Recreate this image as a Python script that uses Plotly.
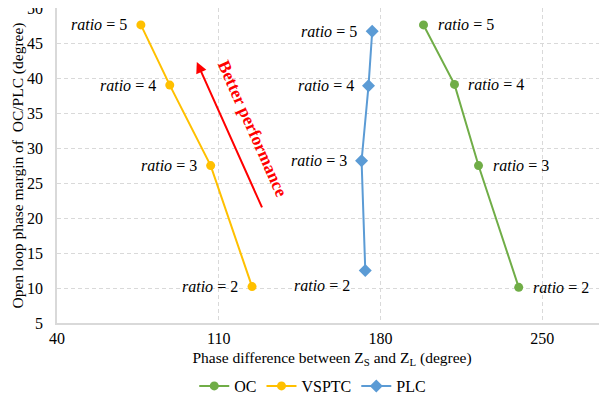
import plotly.graph_objects as go

ratios = [5, 4, 3, 2]
oc_x = [198.6, 212.0, 222.4, 239.8]
oc_y = [47.6, 39.1, 27.5, 10.1]
vsptc_x = [76.3, 88.8, 106.5, 124.4]
vsptc_y = [47.6, 39.0, 27.5, 10.2]
plc_x = [176.4, 174.8, 171.8, 173.4]
plc_y = [46.7, 38.9, 28.2, 12.5]
x_ticks = [40, 110, 180, 250]
y_ticks = [5, 10, 15, 20, 25, 30, 35, 40, 45, 50]
arrow_tail = (129.0, 21.3)
arrow_head = (100.5, 42.3)
arrow_text_pos = (124.5, 32.8)

GREEN = "#70AD47"
ORANGE = "#FFC000"
BLUE = "#5B9BD5"
FONT = "Liberation Serif"

fig = go.Figure()
fig.add_trace(go.Scatter(x=oc_x, y=oc_y, mode="lines+markers", name="OC",
                         line=dict(color=GREEN, width=2),
                         marker=dict(symbol="circle", size=9, color=GREEN)))
fig.add_trace(go.Scatter(x=vsptc_x, y=vsptc_y, mode="lines+markers", name="VSPTC",
                         line=dict(color=ORANGE, width=2),
                         marker=dict(symbol="circle", size=9, color=ORANGE)))
fig.add_trace(go.Scatter(x=plc_x, y=plc_y, mode="lines+markers", name="PLC",
                         line=dict(color=BLUE, width=2),
                         marker=dict(symbol="diamond", size=10, color=BLUE)))

annotations = []
lab_font = dict(family=FONT, size=16, color="black")
for r, x, y in zip(ratios, vsptc_x, vsptc_y):
    annotations.append(dict(x=x, y=y, text=f"<i>ratio</i> = {r}", showarrow=False,
                            xanchor="right", xshift=-12, font=lab_font))
for r, x, y in zip(ratios, plc_x, plc_y):
    ys = -15 if r == 2 else 0
    annotations.append(dict(x=x, y=y, text=f"<i>ratio</i> = {r}", showarrow=False,
                            xanchor="right", xshift=-13, yshift=ys, font=lab_font))
for r, x, y in zip(ratios, oc_x, oc_y):
    annotations.append(dict(x=x, y=y, text=f"<i>ratio</i> = {r}", showarrow=False,
                            xanchor="left", xshift=12, font=lab_font))

annotations.append(dict(x=arrow_head[0], y=arrow_head[1], ax=arrow_tail[0], ay=arrow_tail[1],
                        xref="x", yref="y", axref="x", ayref="y", text="",
                        showarrow=True, arrowhead=2, arrowsize=1.1, arrowwidth=2,
                        arrowcolor="#FF0000"))
annotations.append(dict(x=arrow_text_pos[0], y=arrow_text_pos[1], text="<b>Better performance</b>",
                        showarrow=False, textangle=66,
                        font=dict(family=FONT, size=17.5, color="#FF0000")))

# the page has an 8px body margin, so the figure is sized and offset to fit it
fig.update_layout(
    width=599, height=392,
    margin=dict(l=49, r=0, t=0, b=77, autoexpand=False),
    paper_bgcolor="white", plot_bgcolor="white",
    font=dict(family=FONT, size=15, color="black"),
    annotations=annotations,
    showlegend=True,
    legend=dict(orientation="h", x=0.465, xanchor="center", y=-0.2, yanchor="middle",
                font=dict(family=FONT, size=16), itemwidth=30, tracegroupgap=0,
                bgcolor="rgba(0,0,0,0)"),
    xaxis=dict(range=[40, 278], tickvals=x_ticks, showgrid=True, gridcolor="#D9D9D9",
               griddash="4px,3px", gridwidth=1, zeroline=False, showline=True,
               linecolor="#D9D9D9", linewidth=1.5, mirror=True, ticks="",
               automargin=False, ticklabeloverflow="allow",
               title=dict(text="Phase difference between Z<sub>S</sub> and Z<sub>L</sub> (degree)",
                          font=dict(size=15.5), standoff=6),
               tickfont=dict(size=16)),
    yaxis=dict(range=[5, 50.02], tickvals=y_ticks, showgrid=True, gridcolor="#D9D9D9",
               griddash="4px,3px", gridwidth=1, zeroline=False, showline=True,
               linecolor="#D9D9D9", linewidth=1.5, mirror=True, ticks="",
               automargin=False, ticklabeloverflow="allow", ticklabelstandoff=9,
               title=dict(text="Open loop phase margin of  OC/PLC (degree)",
                          font=dict(size=15.5), standoff=0),
               tickfont=dict(size=16)),
)

fig.write_html("out.html")
